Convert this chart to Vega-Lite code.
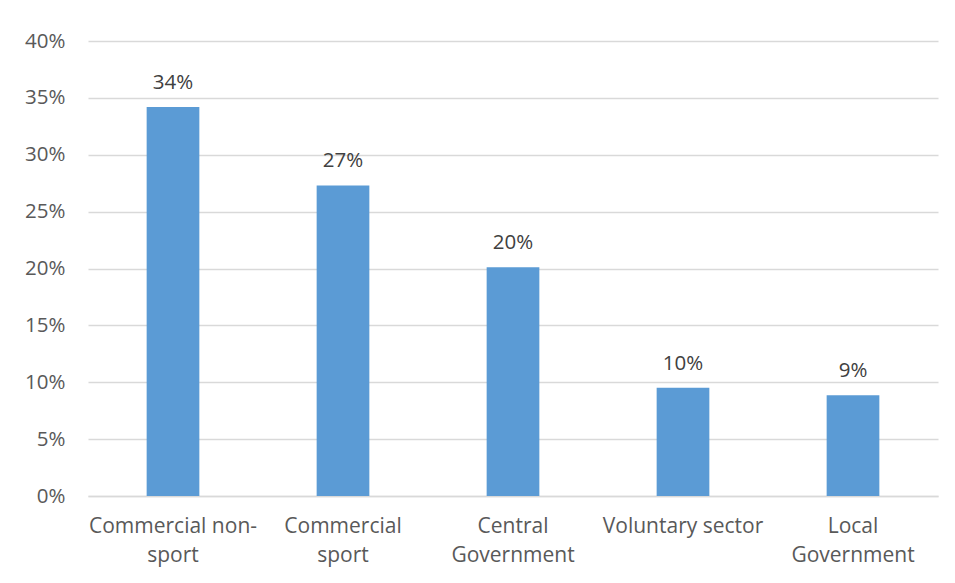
{
  "$schema": "https://vega.github.io/schema/vega-lite/v6.json",
  "width": 850,
  "height": 455,
  "autosize": {"type": "none"},
  "padding": {"left": 88, "top": 41, "right": 17, "bottom": 87},
  "background": "white",
  "config": {
    "view": {"stroke": null},
    "font": "Open Sans"
  },
  "data": {
    "values": [
      {"sector": "Commercial non-sport", "share": 0.342},
      {"sector": "Commercial sport", "share": 0.273},
      {"sector": "Central Government", "share": 0.201},
      {"sector": "Voluntary sector", "share": 0.0951},
      {"sector": "Local Government", "share": 0.0885}
    ]
  },
  "encoding": {
    "x": {
      "field": "sector",
      "type": "nominal",
      "sort": null,
      "scale": {"paddingInner": 0.69, "paddingOuter": 0.345},
      "axis": {
        "title": null,
        "labelAngle": 0,
        "labelFont": "Open Sans",
        "labelFontSize": 21,
        "labelColor": "#595959",
        "labelPadding": 19,
        "labelLineHeight": 29,
        "ticks": false,
        "domainColor": "#d9d9d9",
        "domainWidth": 1.5,
        "labelExpr": "datum.value == 'Commercial non-sport' ? ['Commercial non-', 'sport'] : datum.value == 'Commercial sport' ? ['Commercial', 'sport'] : datum.value == 'Central Government' ? ['Central', 'Government'] : datum.value == 'Local Government' ? ['Local', 'Government'] : datum.value"
      }
    },
    "y": {
      "field": "share",
      "type": "quantitative",
      "scale": {"domain": [0, 0.4], "nice": false},
      "axis": {
        "title": null,
        "values": [0, 0.05, 0.1, 0.15, 0.2, 0.25, 0.3, 0.35, 0.4],
        "format": ".0%",
        "domain": false,
        "ticks": false,
        "labelFont": "Open Sans",
        "labelFontSize": 20.5,
        "labelColor": "#595959",
        "labelPadding": 23,
        "gridColor": "#d9d9d9",
        "gridWidth": 1.5
      }
    }
  },
  "layer": [
    {"mark": {"type": "bar", "color": "#5b9bd5"}},
    {
      "mark": {"type": "text", "baseline": "alphabetic", "dy": -18, "fontSize": 20.5, "color": "#404040", "font": "Open Sans"},
      "encoding": {"text": {"field": "share", "type": "quantitative", "format": ".0%"}}
    }
  ]
}
